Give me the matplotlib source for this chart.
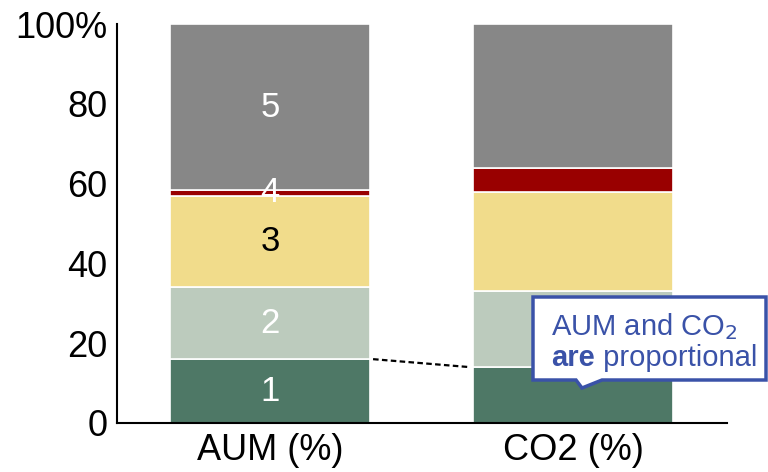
import matplotlib.pyplot as plt
from matplotlib.patches import Polygon
from matplotlib.text import Annotation

plt.rcParams['font.family'] = ['Liberation Sans', 'DejaVu Sans']

# stacked shares, bottom segment first
categories = ['AUM (%)', 'CO2 (%)']
aum = [16, 18, 23, 1.3, 41.7]
co2 = [14, 19, 25, 6, 36]
segment_labels = ['1', '2', '3', '4', '5']
label_colors = ['white', 'white', 'black', 'white', 'white']
colors = ['#4e7866', '#bccbbd', '#f1dc8b', '#990000', '#878787']
yticks = [0, 20, 40, 60, 80, 100]
yticklabels = ['0', '20', '40', '60', '80', '100%']

fig = plt.figure(figsize=(7.68, 4.72), dpi=100)
ax = fig.add_axes([117 / 768, 49 / 472, 610 / 768, 399 / 472])

width = 0.66
x = range(len(categories))
for i, vals in enumerate([aum, co2]):
    bottom = 0
    for j, v in enumerate(vals):
        ax.bar(i, v, width=width, bottom=bottom, color=colors[j],
               edgecolor='white', linewidth=1.2, zorder=2)
        if i == 0:
            ax.text(i, bottom + v / 2, segment_labels[j], ha='center', va='center',
                    fontsize=25, color=label_colors[j], zorder=3)
        bottom += v

# dashed link between the first segments
ax.plot([width / 2 + 0.01, 1 - width / 2 - 0.01], [aum[0], co2[0]],
        ls=(0, (2.5, 1.5)), color='black', lw=1.6, zorder=1)

ax.set_xlim(-0.505, 1.508)
ax.set_ylim(0, 100)
ax.set_xticks(list(x))
ax.set_xticklabels(categories, fontsize=26)
ax.set_yticks(yticks)
ax.set_yticklabels(yticklabels, fontsize=26)
ax.tick_params(length=0, pad=7)
ax.spines['top'].set_visible(False)
ax.spines['right'].set_visible(False)
ax.spines['left'].set_linewidth(1.5)
ax.spines['bottom'].set_linewidth(1.5)

# callout box with tail (figure pixel coords, origin bottom-left)
H = 472
blue = '#3a52a8'
pts = [(533, H - 297), (766, H - 297), (766, H - 380), (602, H - 380),
       (582, H - 388), (576, H - 380), (533, H - 380)]
pts = [(px / 768, py / H) for px, py in pts]
fig.patches.append(Polygon(pts, closed=True, transform=fig.transFigure,
                           facecolor='white', edgecolor=blue, lw=2.5, zorder=5))
fig.text(551 / 768, 1 - 335 / H, 'AUM and CO$_2$', fontsize=21, color=blue,
         ha='left', va='baseline', zorder=6)
t_are = fig.text(551 / 768, 1 - 366 / H, 'are', fontsize=21, color=blue,
                 fontweight='bold', ha='left', va='baseline', zorder=6)
# rest of the line continues right after the bold word
rest = Annotation(' proportional', xy=(1, 0), xycoords=t_are, fontsize=21,
                  color=blue, ha='left', va='bottom', zorder=6,
                  annotation_clip=False)
fig.add_artist(rest)

fig.savefig('out.png', dpi=100)
